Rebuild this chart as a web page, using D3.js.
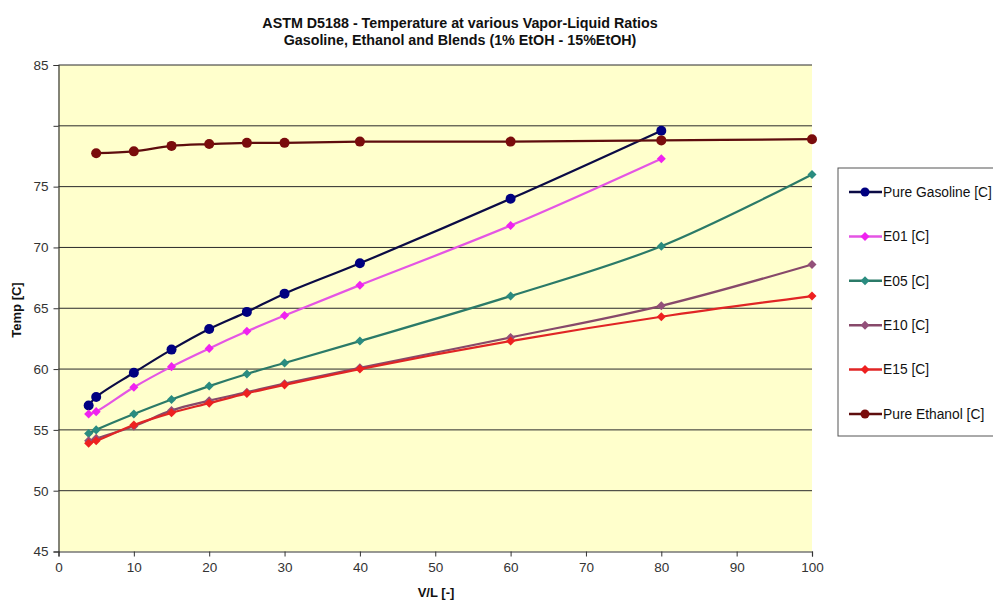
<!DOCTYPE html>
<html>
<head>
<meta charset="utf-8">
<script src="https://cdn.jsdelivr.net/npm/d3@7"></script>
<style>
	body { margin: 0; background: #fff; }
	text { font-family: "Liberation Sans", Arial, sans-serif; }
</style>
</head>
<body>
<script>
// values
let seriesNames = ["Pure Gasoline [C]", "E01 [C]", "E05 [C]", "E10 [C]", "E15 [C]", "Pure Ethanol [C]"]
let vlShort = [4, 5, 10, 15, 20, 25, 30, 40, 60, 80]
let vlFull = [4, 5, 10, 15, 20, 25, 30, 40, 60, 80, 100]
let vlEthanol = [5, 10, 15, 20, 25, 30, 40, 60, 80, 100]
let gasoline = [57.0, 57.7, 59.7, 61.6, 63.3, 64.7, 66.2, 68.7, 74.0, 79.6]
let e01 = [56.3, 56.5, 58.5, 60.2, 61.7, 63.1, 64.4, 66.9, 71.8, 77.3]
let e05 = [54.7, 55.0, 56.3, 57.5, 58.6, 59.6, 60.5, 62.3, 66.0, 70.1, 76.0]
let e10 = [54.1, 54.3, 55.3, 56.6, 57.4, 58.1, 58.8, 60.1, 62.6, 65.2, 68.6]
let e15 = [53.9, 54.1, 55.4, 56.4, 57.2, 58.0, 58.7, 60.0, 62.3, 64.3, 66.0]
let ethanol = [77.75, 77.9, 78.35, 78.5, 78.6, 78.6, 78.7, 78.7, 78.8, 78.9]
let xTicks = [0, 10, 20, 30, 40, 50, 60, 70, 80, 90, 100]
let yTicks = [45, 50, 55, 60, 65, 70, 75, 80, 85]
let yTickLabels = ["45", "50", "55", "60", "65", "70", "75", "", "85"]  // 80 has no label in the original

const width = 993;
const height = 604;
const plot = {left: 58.5, right: 812, top: 65, bottom: 551.5};

let series = [
	{name: seriesNames[0], xs: vlShort, ys: gasoline, line: "#0b0b45", mark: "#000080", shape: "circle"},
	{name: seriesNames[1], xs: vlShort, ys: e01, line: "#e455e4", mark: "#f022f0", shape: "diamond"},
	{name: seriesNames[2], xs: vlFull, ys: e05, line: "#2b7a68", mark: "#2a8c80", shape: "diamond"},
	{name: seriesNames[3], xs: vlFull, ys: e10, line: "#87496a", mark: "#93507a", shape: "diamond"},
	{name: seriesNames[4], xs: vlFull, ys: e15, line: "#e02525", mark: "#ee2020", shape: "diamond"},
	{name: seriesNames[5], xs: vlEthanol, ys: ethanol, line: "#5e0d0d", mark: "#7a0c0c", shape: "circle"}
];

let x = d3.scaleLinear().domain([0, 100]).range([plot.left, plot.right]);
let y = d3.scaleLinear().domain([45, 85]).range([plot.bottom, plot.top]);

let svg = d3.select("body")
	.append("svg")
		.attr("width", width)
		.attr("height", height)

// plot area
svg.append("rect")
	.attr("x", plot.left)
	.attr("y", plot.top)
	.attr("width", plot.right - plot.left)
	.attr("height", plot.bottom - plot.top)
	.attr("fill", "#ffffcc")

// gridlines
svg.append("g")
	.selectAll("line")
	.data(yTicks.filter(d => d > 45))
	.enter()
	.append("line")
		.attr("x1", plot.left)
		.attr("x2", plot.right)
		.attr("y1", d => y(d))
		.attr("y2", d => y(d))
		.attr("stroke", "#2a2a2a")
		.attr("stroke-width", 1)

// axes
let yAxis = d3.axisLeft(y)
	.tickValues(yTicks)
	.tickSize(5)
	.tickPadding(5)
	.tickFormat((d, i) => yTickLabels[i]);

let xAxis = d3.axisBottom(x)
	.tickValues(xTicks)
	.tickSize(5)
	.tickPadding(6)
	.tickFormat(d3.format("d"));

function styleAxis(el) {
	el.select(".domain").attr("stroke", "#333").attr("stroke-width", 1.2)
	el.selectAll(".tick line").attr("stroke", "#333")
	el.selectAll(".tick text")
		.attr("fill", "#333")
		.style("font-size", "13.5px")
		.style("font-family", "'Liberation Sans', Arial, sans-serif")
}

svg.append("g")
	.attr("transform", `translate(${plot.left},0)`)
	.call(yAxis)
	.call(styleAxis)

svg.append("g")
	.attr("transform", `translate(0,${plot.bottom})`)
	.call(xAxis)
	.call(styleAxis)

// series
let lineGen = d3.line()
	.x(d => x(d[0]))
	.y(d => y(d[1]))
	.curve(d3.curveCatmullRom.alpha(0.5));

let diamond = d3.symbol().type(d3.symbolDiamond2).size(52);

series.forEach(s => {
	let pts = s.xs.map((v, i) => [v, s.ys[i]]);
	svg.append("path")
		.datum(pts)
		.attr("d", lineGen)
		.attr("fill", "none")
		.attr("stroke", s.line)
		.attr("stroke-width", 2.2)
	let marks = svg.append("g")
		.selectAll("g")
		.data(pts)
		.enter()
	if (s.shape == "circle") {
		marks.append("circle")
			.attr("cx", d => x(d[0]))
			.attr("cy", d => y(d[1]))
			.attr("r", 5)
			.attr("fill", s.mark)
	} else {
		marks.append("path")
			.attr("d", diamond)
			.attr("transform", d => `translate(${x(d[0])},${y(d[1])})`)
			.attr("fill", s.mark)
	}
});

// titles
let title = svg.append("text")
	.attr("x", 460)
	.attr("y", 28)
	.attr("text-anchor", "middle")
	.style("font-size", "14.3px")
	.style("font-weight", "bold")
	.attr("fill", "#111")
title.append("tspan").attr("x", 460).text("ASTM D5188 - Temperature at various Vapor-Liquid Ratios")
title.append("tspan").attr("x", 460).attr("dy", 17).text("Gasoline, Ethanol and Blends (1% EtOH - 15%EtOH)")

svg.append("text")
	.attr("x", 436)
	.attr("y", 597)
	.attr("text-anchor", "middle")
	.style("font-size", "13px")
	.style("font-weight", "bold")
	.attr("fill", "#111")
	.text("V/L [-]")

svg.append("text")
	.attr("transform", "translate(21,310) rotate(-90)")
	.attr("text-anchor", "middle")
	.style("font-size", "13px")
	.style("font-weight", "bold")
	.attr("fill", "#111")
	.text("Temp [C]")

// legend
let legend = svg.append("g").attr("id", "legend")

legend.append("rect")
	.attr("x", 838)
	.attr("y", 168)
	.attr("width", 170)
	.attr("height", 268)
	.attr("fill", "#fff")
	.attr("stroke", "#555")

let legendItems = legend.selectAll("g.item")
	.data(series)
	.enter()
	.append("g")
		.attr("class", "item")
		.attr("transform", (d, i) => `translate(849,${192 + i * 44.4})`)

legendItems.append("line")
	.attr("x1", 0)
	.attr("x2", 33)
	.attr("stroke", d => d.line)
	.attr("stroke-width", 2.5)

legendItems.each(function(d) {
	let g = d3.select(this);
	if (d.shape == "circle")
		g.append("circle").attr("cx", 16).attr("r", 4.5).attr("fill", d.mark)
	else
		g.append("path").attr("d", diamond).attr("transform", "translate(16,0)").attr("fill", d.mark)
})

legendItems.append("text")
	.attr("x", 34)
	.attr("dy", "0.35em")
	.style("font-size", "13.8px")
	.attr("fill", "#111")
	.text(d => d.name)
</script>
</body>
</html>
